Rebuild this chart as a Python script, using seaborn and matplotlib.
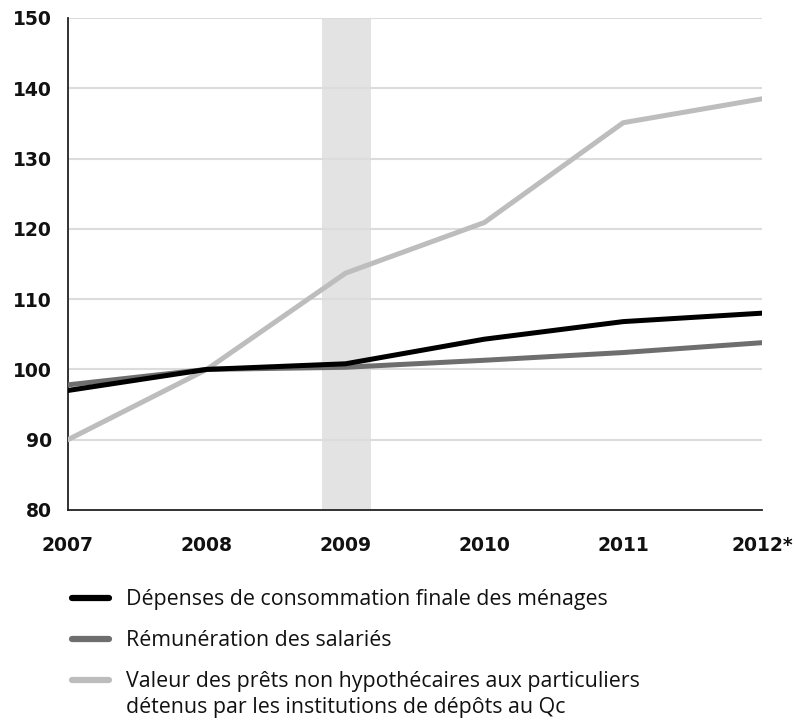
import seaborn as sns
import pandas as pd
import matplotlib.pyplot as plt

years = [2007, 2008, 2009, 2010, 2011, 2012]
year_labels = ["2007", "2008", "2009", "2010", "2011", "2012*"]
depenses = [97.0, 100.0, 100.8, 104.3, 106.8, 108.0]
remuneration = [97.8, 100.0, 100.3, 101.3, 102.4, 103.8]
prets = [90.0, 100.0, 113.7, 120.9, 135.1, 138.5]

names = ["Dépenses de consommation finale des ménages",
         "Rémunération des salariés",
         "Valeur des prêts non hypothécaires aux particuliers"]
name_suite = "détenus par les institutions de dépôts au Qc"
colors = ["#000000", "#6e6e6e", "#bdbdbd"]

df = pd.DataFrame({
    "annee": years * 3,
    "indice": depenses + remuneration + prets,
    "serie": [names[0]] * 6 + [names[1]] * 6 + [names[2]] * 6,
})

sns.set_style("white")
fig = plt.figure(figsize=(7.95, 7.25), dpi=100)
ax = fig.add_axes([0.0855, 0.2966, 0.873, 0.6786])

# bande de récession
ax.axvspan(2008.83, 2009.18, color="#e3e3e3", zorder=0, lw=0)
for v in range(90, 151, 10):
    ax.axhline(v, color="#dcdcdc", lw=1.5, zorder=0.5)

sns.lineplot(data=df, x="annee", y="indice", hue="serie", hue_order=names[::-1],
             palette=dict(zip(names, colors)), linewidth=3.6, ax=ax, legend=False,
             zorder=3)

ax.set_xlim(2007, 2012)
ax.set_ylim(80, 150)
ax.set_xticks(years)
ax.set_xticklabels(year_labels)
ax.set_yticks(range(80, 151, 10))
ax.set_xlabel("")
ax.set_ylabel("")
for s in ["top", "right"]:
    ax.spines[s].set_visible(False)
for s in ["left", "bottom"]:
    ax.spines[s].set_color("#222222")
    ax.spines[s].set_linewidth(1.3)
ax.tick_params(axis="x", direction="out", length=7, width=1.3, color="#222222", pad=12)
ax.tick_params(axis="y", length=0, pad=11.5)
for lab in ax.get_xticklabels() + ax.get_yticklabels():
    lab.set_fontweight("bold")
    lab.set_fontsize(13.5)
    lab.set_fontfamily("DejaVu Sans")
    lab.set_color("#111111")

handles = [plt.Line2D([], [], color=c, lw=4.5, solid_capstyle="round") for c in colors]
fig.legend(handles, names, loc="upper left", bbox_to_anchor=(0.09, 0.187),
           frameon=False, borderpad=0, borderaxespad=0,
           handlelength=1.75, handletextpad=0.8, labelspacing=0.93,
           prop={"family": "Open Sans", "size": 15.4}, labelcolor="#111111")
fig.text(126 / 795, 1 - 713 / 725, name_suite, va="baseline", ha="left",
         family="Open Sans", fontsize=15.4, color="#111111")

fig.savefig("out.png", dpi=100)
